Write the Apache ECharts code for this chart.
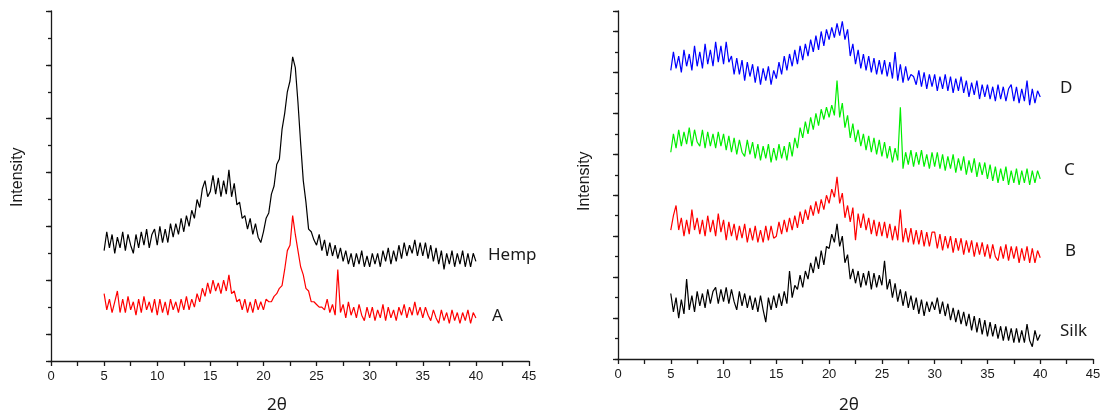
<!DOCTYPE html>
<html>
<head>
<meta charset="utf-8">
<script src="https://cdn.jsdelivr.net/npm/echarts@6/dist/echarts.min.js"></script>
<style>
html,body{margin:0;padding:0;background:#fff;}
#chart{width:1108px;height:415px;}
</style>
</head>
<body>
<div id="chart"></div>
<script>
// 2θ sampling: 5.00 to 40.00 in steps of 0.25
const THETA_START = 5;
const THETA_STEP = 0.25;

// Left panel (Intensity, arbitrary offset units)
const hemp = [
  4.1, 4.8, 4.2, 4.7, 4.0, 4.6, 4.2, 4.8, 4.1, 4.7, 4.3, 4.0, 4.7, 4.2, 4.8, 4.3, 4.9, 4.2, 4.7, 4.9,
  4.3, 5.0, 4.4, 4.9, 4.4, 5.1, 4.6, 5.1, 4.7, 5.3, 4.8, 5.4, 5.0, 5.6, 5.3, 6.0, 5.7, 6.4, 6.7, 6.1,
  6.3, 6.9, 6.2, 6.8, 6.1, 6.7, 6.2, 7.1, 6.1, 6.6, 5.8, 5.9, 5.3, 5.4, 4.9, 5.3, 4.7, 5.1, 4.6, 4.4,
  4.8, 5.3, 5.5, 6.2, 6.5, 7.3, 7.5, 8.6, 9.2, 10.0, 10.4, 11.3, 10.9, 9.6, 8.1, 6.7, 5.9, 4.9, 4.8, 4.5,
  4.3, 4.7, 4.1, 4.5, 3.9, 4.4, 3.9, 4.3, 3.8, 4.2, 3.7, 4.1, 3.6, 4.0, 3.5, 4.0, 3.6, 4.1, 3.5, 3.9,
  3.5, 4.0, 3.6, 4.0, 3.5, 4.1, 3.7, 4.2, 3.6, 4.1, 3.7, 4.3, 3.8, 4.4, 3.9, 4.3, 4.0, 4.5, 3.9, 4.4,
  3.9, 4.4, 3.8, 4.3, 3.7, 4.2, 3.6, 4.1, 3.4, 4.0, 3.6, 4.1, 3.5, 4.0, 3.6, 4.1, 3.5, 4.0, 3.5, 4.0,
  3.7
];
const sampleA = [
  2.5, 1.9, 2.3, 1.8, 2.2, 2.6, 1.8, 2.3, 1.8, 2.4, 1.9, 2.2, 1.7, 2.3, 1.8, 2.4, 1.9, 2.2, 1.8, 2.3,
  1.7, 2.3, 1.8, 2.2, 1.7, 2.3, 1.9, 2.2, 1.8, 2.3, 1.9, 2.4, 1.9, 2.3, 2.0, 2.5, 2.2, 2.7, 2.4, 2.9,
  2.5, 3.0, 2.6, 2.9, 2.5, 3.0, 2.6, 3.2, 2.5, 2.6, 2.2, 2.3, 1.9, 2.3, 1.8, 2.2, 1.8, 2.3, 1.9, 2.2,
  1.9, 2.3, 2.2, 2.2, 2.4, 2.5, 2.7, 2.8, 3.4, 4.1, 4.3, 5.4, 4.7, 4.1, 3.5, 3.2, 2.7, 2.6, 2.2, 2.2,
  2.1, 2.0, 2.0, 1.9, 2.3, 1.8, 2.1, 1.7, 3.4, 1.8, 2.1, 1.6, 2.2, 1.7, 2.0, 1.6, 2.1, 1.7, 1.5, 2.0,
  1.6, 2.0, 1.5, 1.9, 1.6, 2.1, 1.5, 2.0, 1.6, 1.9, 1.5, 2.0, 1.7, 2.1, 1.6, 2.0, 1.7, 2.2, 1.7, 2.0,
  1.6, 2.0, 1.7, 1.5, 1.9, 1.6, 1.4, 1.9, 1.5, 1.8, 1.4, 1.9, 1.5, 1.8, 1.4, 1.8, 1.5, 1.9, 1.4, 1.8,
  1.6
];

// Right panel
const sampleD = [
  14.1, 15.0, 14.2, 14.8, 14.0, 15.1, 14.3, 14.9, 14.1, 15.3, 14.3, 15.0, 14.2, 15.4, 14.4, 15.1, 14.3, 15.5, 14.5, 15.3,
  14.4, 15.5, 14.5, 14.8, 13.9, 14.7, 13.9, 14.6, 13.6, 14.5, 13.8, 14.4, 13.5, 14.3, 13.4, 14.2, 13.6, 14.3, 13.4, 14.1,
  13.7, 14.5, 13.9, 14.8, 14.1, 14.9, 14.3, 15.1, 14.4, 15.3, 14.6, 15.4, 14.8, 15.6, 15.0, 15.8, 15.1, 16.0, 15.3, 16.1,
  15.6, 16.2, 15.7, 16.4, 15.8, 16.5, 15.6, 16.1, 14.8, 15.4, 14.4, 15.1, 14.2, 14.9, 14.1, 14.8, 14.0, 14.7, 13.9, 14.6,
  13.9, 14.6, 13.8, 14.5, 13.7, 15.0, 13.6, 14.4, 13.5, 14.3, 13.6, 13.9, 13.8, 13.4, 14.1, 13.3, 14.0, 13.2, 13.9, 13.3,
  13.9, 13.1, 13.8, 13.2, 13.9, 13.1, 13.8, 13.0, 13.7, 13.1, 13.8, 13.0, 13.6, 12.8, 13.5, 12.9, 13.6, 12.7, 13.4, 12.8,
  13.4, 12.7, 13.3, 12.6, 13.4, 12.7, 13.3, 12.6, 13.2, 13.4, 12.6, 13.3, 12.5, 13.2, 12.6, 13.6, 12.4, 13.2, 12.5, 13.1,
  12.8
];
const sampleC = [
  10.1, 11.0, 10.3, 11.2, 10.4, 11.1, 10.5, 11.3, 10.4, 11.2, 10.6, 10.4, 11.2, 10.3, 11.1, 10.4, 11.0, 10.3, 11.1, 10.4,
  11.0, 10.2, 10.9, 10.1, 10.8, 10.0, 10.7, 10.1, 9.9, 10.7, 10.0, 10.6, 9.8, 10.5, 9.7, 10.4, 9.8, 10.5, 9.6, 10.3,
  9.7, 10.5, 9.8, 10.4, 9.7, 10.6, 9.9, 10.8, 10.3, 11.3, 10.8, 11.6, 11.0, 11.8, 11.2, 12.0, 11.4, 12.2, 11.7, 12.3,
  11.8, 12.4, 11.9, 13.6, 11.8, 12.5, 11.3, 11.9, 10.8, 11.5, 10.6, 11.2, 10.4, 11.0, 10.2, 10.9, 10.1, 10.8, 10.0, 10.7,
  9.9, 10.6, 9.8, 10.4, 9.6, 10.3, 9.7, 12.3, 9.3, 10.1, 9.5, 10.2, 9.4, 10.1, 9.5, 10.2, 9.4, 10.0, 9.3, 10.1,
  9.4, 10.1, 9.3, 10.0, 9.2, 9.9, 9.3, 10.0, 9.1, 9.8, 9.2, 9.9, 9.0, 9.7, 9.1, 9.8, 8.9, 9.6, 9.0, 9.6,
  8.8, 9.5, 8.7, 9.4, 8.6, 9.3, 8.7, 9.4, 8.5, 9.2, 8.6, 9.3, 8.5, 9.2, 8.6, 9.3, 8.5, 9.2, 8.6, 9.2,
  8.8
];
const sampleB = [
  6.3, 7.0, 7.5, 6.3, 6.9, 6.0, 6.8, 6.1, 7.3, 6.3, 6.9, 6.1, 6.8, 6.0, 7.0, 6.2, 6.8, 6.0, 7.1, 6.2,
  6.8, 5.8, 6.7, 6.0, 6.6, 5.8, 6.5, 5.9, 6.6, 5.7, 6.4, 5.8, 6.5, 5.7, 6.3, 5.7, 6.5, 5.8, 6.5, 5.9,
  6.0, 6.7, 6.1, 6.8, 6.2, 6.9, 6.3, 7.0, 6.4, 7.2, 6.6, 7.3, 6.8, 7.5, 7.0, 7.7, 7.1, 7.8, 7.3, 8.0,
  7.6, 8.3, 7.9, 8.9, 7.6, 8.1, 6.9, 7.5, 6.7, 7.4, 5.8, 7.1, 6.4, 7.1, 6.3, 6.9, 6.1, 6.8, 6.0, 6.7,
  6.0, 6.7, 5.9, 6.6, 5.8, 6.5, 5.8, 7.3, 5.7, 6.4, 5.7, 6.4, 5.6, 6.3, 5.6, 6.3, 5.5, 6.2, 5.5, 6.2,
  6.2, 5.4, 6.1, 5.3, 6.0, 5.4, 6.0, 5.2, 5.9, 5.3, 5.9, 5.1, 5.8, 5.2, 5.8, 5.0, 5.7, 5.1, 5.7, 5.0,
  5.6, 4.9, 5.6, 5.0, 4.8, 5.5, 4.9, 5.6, 4.8, 5.5, 4.9, 5.5, 4.7, 5.4, 4.8, 5.5, 4.7, 5.4, 4.7, 5.3,
  4.95
];
const silk = [
  3.2, 2.3, 3.0, 2.0, 2.9, 2.2, 3.9, 2.4, 3.1, 2.3, 3.3, 2.6, 3.2, 2.5, 3.4, 2.7, 3.3, 3.5, 2.7, 3.4,
  2.8, 3.5, 2.7, 3.4, 2.8, 2.4, 3.3, 2.6, 3.2, 2.5, 3.1, 2.4, 3.0, 2.3, 3.1, 2.4, 1.8, 3.0, 2.4, 3.1,
  2.5, 3.2, 2.6, 3.3, 2.7, 4.3, 3.0, 3.6, 3.4, 4.1, 3.5, 4.3, 3.9, 4.7, 4.2, 5.0, 4.4, 5.3, 4.6, 5.5,
  5.4, 6.1, 5.7, 6.6, 5.5, 6.0, 4.7, 5.1, 3.9, 4.4, 3.7, 4.3, 3.5, 4.2, 3.6, 4.3, 3.4, 4.2, 3.5, 4.1,
  3.6, 4.8, 3.4, 3.9, 3.0, 3.7, 2.8, 3.4, 2.6, 3.3, 2.5, 3.1, 2.4, 3.0, 2.2, 2.9, 2.1, 2.8, 2.3, 2.8,
  2.4, 3.0, 2.2, 2.8, 2.1, 2.7, 1.9, 2.5, 1.8, 2.4, 1.7, 2.3, 1.6, 2.2, 1.4, 2.1, 1.3, 2.0, 1.2, 1.9,
  1.1, 1.8, 1.1, 1.7, 1.0, 1.6, 0.9, 1.6, 0.9, 1.5, 0.8, 1.5, 0.8, 1.4, 0.8, 1.7, 0.9, 0.6, 1.4, 0.9,
  1.2
];

const seriesNames = ['Hemp', 'A', 'D', 'C', 'B', 'Silk'];
const xTicksMax = 45;

function pairs(vals) {
  return vals.map((v, i) => [THETA_START + i * THETA_STEP, v]);
}

const AXIS_COLOR = '#1a1a1a';
const TEXT_COLOR = '#1a1a1a';

function xAxisFor(gi) {
  return {
    gridIndex: gi, type: 'value', min: 0, max: xTicksMax, interval: 5,
    axisLine: { show: true, onZero: false, lineStyle: { color: AXIS_COLOR, width: 1.3 } },
    axisTick: { show: true, inside: false, length: 5, lineStyle: { color: AXIS_COLOR, width: 1.3 } },
    minorTick: { show: true, splitNumber: 2, length: 5, lineStyle: { color: AXIS_COLOR, width: 1.3 } },
    axisLabel: { show: true, color: TEXT_COLOR, fontSize: 13, fontFamily: 'Liberation Sans, Arial, sans-serif', margin: 9 },
    splitLine: { show: false }
  };
}
function yAxisFor(gi, max, interval, len, showLine, inverse) {
  return {
    gridIndex: gi, type: 'value', min: 0, max: max, interval: interval, inverse: inverse,
    position: 'left',
    axisLine: { show: showLine, onZero: false, lineStyle: { color: AXIS_COLOR, width: 1.3 } },
    axisTick: { show: true, inside: false, length: len, lineStyle: { color: AXIS_COLOR, width: 1.3 } },
    axisLabel: { show: false },
    splitLine: { show: false }
  };
}

function line(name, data, color, xi, yi) {
  return {
    name: name, type: 'line', xAxisIndex: xi, yAxisIndex: yi,
    data: pairs(data), showSymbol: false, symbol: 'none',
    lineStyle: { color: color, width: 1.2 }, itemStyle: { color: color },
    animation: false, z: 3
  };
}

const labelFont = '"Noto Sans", "Open Sans", sans-serif';
function txt(text, left, top, size) {
  return {
    type: 'text', left: left, top: top,
    style: { text: text, fill: TEXT_COLOR, font: size + 'px ' + labelFont }
  };
}

const chart = echarts.init(document.getElementById('chart'), null, { renderer: 'canvas' });
chart.setOption({
  backgroundColor: '#ffffff',
  animation: false,
  grid: [
    { left: 51, right: 579, top: 11, bottom: 54 },
    { left: 618, right: 15, top: 11, bottom: 56 }
  ],
  xAxis: [xAxisFor(0), xAxisFor(1)],
  yAxis: [
    yAxisFor(0, 13, 1, 3, true, false),
    yAxisFor(0, 13, 2, 5, false, true),
    yAxisFor(1, 17, 1, 3, true, false),
    yAxisFor(1, 17, 2, 5, false, false)
  ],
  series: [
    line(seriesNames[0], hemp, '#000000', 0, 0),
    line(seriesNames[1], sampleA, '#ff0000', 0, 0),
    line(seriesNames[2], sampleD, '#0000ff', 1, 2),
    line(seriesNames[3], sampleC, '#00ee00', 1, 2),
    line(seriesNames[4], sampleB, '#ff0000', 1, 2),
    line(seriesNames[5], silk, '#000000', 1, 2)
  ],
  graphic: [
    txt('Hemp', 488, 247, 17),
    txt('A', 492, 308, 17),
    txt('D', 1060, 80, 17),
    txt('C', 1064, 162, 17),
    txt('B', 1065, 243, 17),
    txt('Silk', 1060, 323, 17),
    { type: 'text', x: 10, y: 207, rotation: Math.PI / 2,
      style: { text: 'Intensity', fill: TEXT_COLOR, font: '16px "Liberation Sans", Arial, sans-serif' } },
    { type: 'text', x: 577, y: 211, rotation: Math.PI / 2,
      style: { text: 'Intensity', fill: TEXT_COLOR, font: '16px "Liberation Sans", Arial, sans-serif' } },
    txt('2θ', 267, 397, 17),
    txt('2θ', 839, 397, 17)
  ]
});
</script>
</body>
</html>
